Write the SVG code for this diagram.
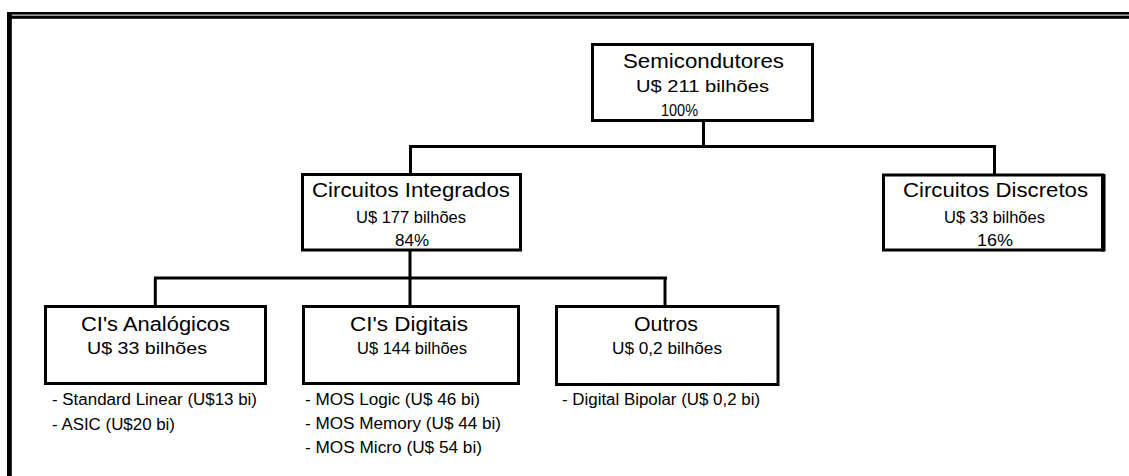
<svg xmlns="http://www.w3.org/2000/svg" width="1129" height="476" viewBox="0 0 1129 476">
<style>
.box{fill:#fff;stroke:#000;stroke-width:3}
.ln{stroke:#000;stroke-width:3;fill:none}
text{font-family:"Liberation Sans",Arial,sans-serif;fill:#000}
.t{font-size:20px}
.s{font-size:16px}
.b{font-size:16px}
</style>
<rect width="1129" height="476" fill="#fff"/>
<g id="frame">
<rect x="7" y="12" width="1122" height="2.6" fill="#000"/>
<rect x="10" y="15.6" width="1119" height="3.2" fill="#000"/>
<rect x="7" y="12" width="4.8" height="464" fill="#000"/>
</g>
<g id="connectors">
<line class="ln" x1="703.5" y1="121" x2="703.5" y2="146.5"/>
<line class="ln" x1="409" y1="146.5" x2="996" y2="146.5"/>
<line class="ln" x1="410.5" y1="146.5" x2="410.5" y2="174"/>
<line class="ln" x1="994.5" y1="146.5" x2="994.5" y2="175"/>
<line class="ln" x1="410" y1="250" x2="410" y2="278"/>
<line class="ln" x1="154" y1="278" x2="667" y2="278"/>
<line class="ln" x1="155.3" y1="278" x2="155.3" y2="306"/>
<line class="ln" x1="410" y1="278" x2="410" y2="306"/>
<line class="ln" x1="665" y1="278" x2="665" y2="306"/>
</g>
<g id="semicondutores">
<rect class="box" x="592.5" y="44.5" width="220" height="76"/>
<text class="t" x="623" y="68" textLength="161" lengthAdjust="spacingAndGlyphs">Semicondutores</text>
<text class="s" x="636" y="92" textLength="133" lengthAdjust="spacingAndGlyphs">U$ 211 bilhões</text>
<text class="s" x="661" y="116" textLength="37" lengthAdjust="spacingAndGlyphs">100%</text>
</g>
<g id="circuitos-integrados">
<rect class="box" x="302.5" y="174.5" width="218" height="75.5"/>
<text class="t" x="312" y="197" textLength="198" lengthAdjust="spacingAndGlyphs">Circuitos Integrados</text>
<text class="s" x="356" y="222.5" textLength="110" lengthAdjust="spacingAndGlyphs">U$ 177 bilhões</text>
<text class="s" x="395" y="246" textLength="34" lengthAdjust="spacingAndGlyphs">84%</text>
</g>
<g id="circuitos-discretos">
<rect class="box" x="883.5" y="175" width="219" height="75"/>
<rect x="1101" y="174" width="4.5" height="77.5" fill="#000"/>
<text class="t" x="903" y="197" textLength="185" lengthAdjust="spacingAndGlyphs">Circuitos Discretos</text>
<text class="s" x="944" y="222.5" textLength="101" lengthAdjust="spacingAndGlyphs">U$ 33 bilhões</text>
<text class="s" x="977" y="246" textLength="36" lengthAdjust="spacingAndGlyphs">16%</text>
</g>
<g id="ci-analogicos">
<rect class="box" x="45.5" y="306.5" width="220" height="77"/>
<text class="t" x="81" y="330.5" textLength="149" lengthAdjust="spacingAndGlyphs">CI's Analógicos</text>
<text class="s" x="87" y="354" textLength="120" lengthAdjust="spacingAndGlyphs">U$ 33 bilhões</text>
<text class="b" x="52" y="405" textLength="205" lengthAdjust="spacingAndGlyphs">- Standard Linear (U$13 bi)</text>
<text class="b" x="52" y="429.5" textLength="123" lengthAdjust="spacingAndGlyphs">- ASIC (U$20 bi)</text>
</g>
<g id="ci-digitais">
<rect class="box" x="303.5" y="306.5" width="215" height="77"/>
<text class="t" x="350" y="330.5" textLength="118" lengthAdjust="spacingAndGlyphs">CI's Digitais</text>
<text class="s" x="357" y="354" textLength="110" lengthAdjust="spacingAndGlyphs">U$ 144 bilhões</text>
<text class="b" x="305" y="405" textLength="175" lengthAdjust="spacingAndGlyphs">- MOS Logic (U$ 46 bi)</text>
<text class="b" x="305" y="429" textLength="196" lengthAdjust="spacingAndGlyphs">- MOS Memory (U$ 44 bi)</text>
<text class="b" x="305" y="453" textLength="177" lengthAdjust="spacingAndGlyphs">- MOS Micro (U$ 54 bi)</text>
</g>
<g id="outros">
<rect class="box" x="556.5" y="306.5" width="221.5" height="78"/>
<text class="t" x="634" y="330.5" textLength="64" lengthAdjust="spacingAndGlyphs">Outros</text>
<text class="s" x="612" y="354" textLength="110" lengthAdjust="spacingAndGlyphs">U$ 0,2 bilhões</text>
<text class="b" x="562" y="405" textLength="198" lengthAdjust="spacingAndGlyphs">- Digital Bipolar (U$ 0,2 bi)</text>
</g>
</svg>
